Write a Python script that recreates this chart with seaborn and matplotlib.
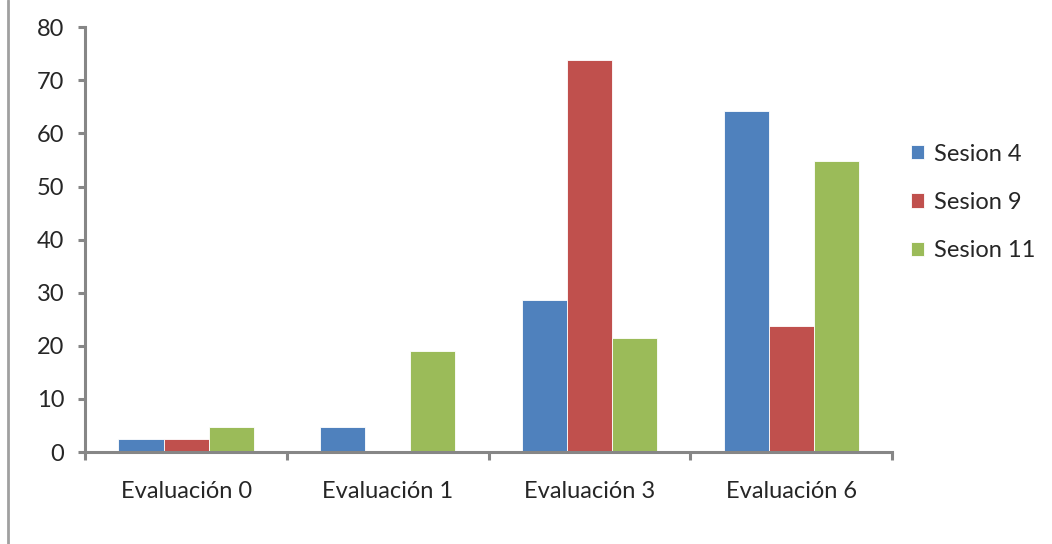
import matplotlib
matplotlib.use("Agg")
import matplotlib.pyplot as plt
from matplotlib.lines import Line2D
import pandas as pd
import seaborn as sns

# -----------------------------
# DATA
# -----------------------------
evaluaciones = ["Evaluación 0", "Evaluación 1", "Evaluación 3", "Evaluación 6"]
sesiones = ["Sesion 4", "Sesion 9", "Sesion 11"]
sesion_4 = [2.4, 4.8, 28.6, 64.3]
sesion_9 = [2.4, 0.0, 73.8, 23.8]
sesion_11 = [4.8, 19.0, 21.4, 54.8]
colores = ["#4F81BD", "#C0504D", "#9BBB59"]

df = pd.DataFrame({
    "evaluacion": evaluaciones * 3,
    "sesion": [s for s in sesiones for _ in evaluaciones],
    "valor": sesion_4 + sesion_9 + sesion_11,
})

# -----------------------------
# PLOT
# -----------------------------
sns.set_style("white")
plt.rcParams["font.family"] = ["Lato", "DejaVu Sans"]

fig = plt.figure(figsize=(10.52, 5.44), dpi=100)
ax = fig.add_axes([0.081, 0.169, 0.767, 0.781])

sns.barplot(
    data=df, x="evaluacion", y="valor", hue="sesion",
    order=evaluaciones, hue_order=sesiones, palette=colores,
    width=0.67, saturation=1, edgecolor="white", linewidth=0.6, ax=ax,
)

axis_grey = "#868686"
fs = 17
ax.set_xlim(-0.5, 3.5)
ax.set_ylim(0, 80)
ax.set_yticks(range(0, 81, 10))
ax.set_xlabel("")
ax.set_ylabel("")
sns.despine(ax=ax, top=True, right=True)
for side in ["left", "bottom"]:
    ax.spines[side].set_color(axis_grey)
    ax.spines[side].set_linewidth(2.2)

# category labels centred, tick marks on the boundaries
ax.set_xticks(range(len(evaluaciones)))
ax.set_xticklabels(evaluaciones)
ax.set_xticks([i - 0.5 for i in range(len(evaluaciones) + 1)], minor=True)
ax.tick_params(axis="x", which="major", length=0, pad=21, labelsize=fs)
ax.tick_params(axis="x", which="minor", length=6, width=2.2, color=axis_grey, direction="out")
ax.tick_params(axis="y", length=5, width=2.2, color=axis_grey, direction="out", pad=10, labelsize=fs)
ax.xaxis.set_tick_params(bottom=True, which="both")
ax.yaxis.set_tick_params(left=True)

ax.legend(
    loc="center left", bbox_to_anchor=(0.846, 0.628), bbox_transform=fig.transFigure,
    frameon=False, fontsize=fs, handlelength=0.55, handleheight=0.55,
    handletextpad=0.4, labelspacing=1.15,
)

# chart frame edge on the left
fig.add_artist(Line2D([0.008, 0.008], [0, 1], color="#A0A0A0", linewidth=2))

plt.savefig("out.png", dpi=100)
